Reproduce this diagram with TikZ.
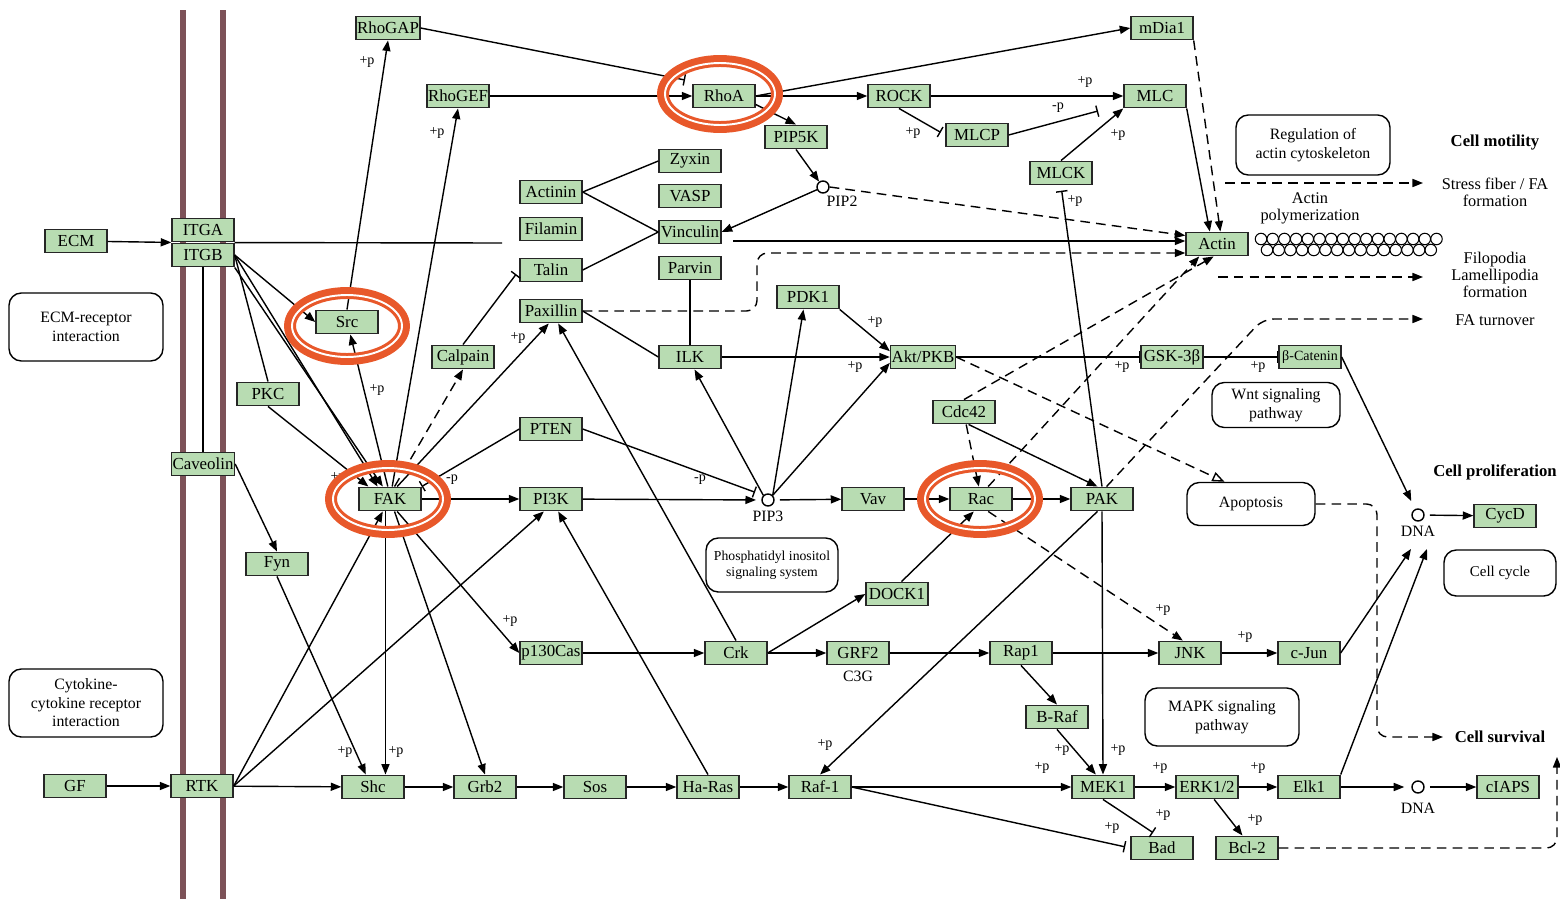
\documentclass[tikz,border=0pt]{standalone}
\usepackage{fontspec}
\setmainfont{Liberation Serif}
\usetikzlibrary{arrows.meta, positioning}
\definecolor{geneg}{RGB}{184,220,178}
\definecolor{hlred}{RGB}{232,88,42}
\definecolor{membr}{RGB}{125,82,88}
\tikzset{
  gene/.style={draw=black!85, fill=geneg, minimum width=1.24cm, minimum height=0.47cm,
    inner sep=0.6pt, font=\fontsize{9.6}{10}\selectfont},
  cmpd/.style={circle, draw, fill=white, minimum size=0.24cm, inner sep=0pt},
  clbl/.style={font=\fontsize{9}{10}\selectfont, inner sep=0pt},
  pw/.style={draw, rounded corners=7pt, align=center, font=\fontsize{9}{10.5}\selectfont},
  outc/.style={align=center, font=\fontsize{9.3}{9.6}\selectfont, inner sep=0pt},
  ttl/.style={font=\fontsize{9.5}{10}\selectfont\bfseries, inner sep=0pt},
  lbl/.style={font=\fontsize{8}{9}\selectfont, inner sep=0pt},
  arr/.style={-{Triangle[length=6pt, width=4.6pt]}},
  inh/.style={-{Bar[width=6.5pt, line width=0.8pt]}},
  dsh/.style={arr, dash pattern=on 5.5pt off 3.5pt},
  membrane/.style={draw=membr, line width=3.4pt},
  hl/.style={draw=hlred, line width=6.8pt},
}
\begin{document}
\begin{tikzpicture}[x=0.02cm, y=-0.02cm, line width=0.8pt]
\useasboundingbox (0,0) rectangle (1560,899);
% cell membrane
\foreach \m in {183,223} \draw[membrane] (\m,10) -- (\m,899);

% receptors, left side
\node[gene] (ecm) at (76,241) {ECM};
\node[gene] (itga) at (203,230) {ITGA};
\node[gene] (itgb) at (203,255) {ITGB};
\node[gene] (caveolin) at (203,464) {Caveolin};
\node[gene] (pkc) at (268,394) {PKC};
\node[gene] (fyn) at (277,564) {Fyn};
\node[gene] (src) at (347,322) {Src};
\node[gene] (fak) at (390,499) {FAK};
\node[gene] (gf) at (75,786) {GF};
\node[gene] (rtk) at (202,786) {RTK};
\node[pw, minimum width=3.08cm, minimum height=1.36cm] (ecmrec) at (86,327) {ECM-receptor\\interaction};
\node[pw, minimum width=3.08cm, minimum height=1.36cm] (cytok) at (86,703) {Cytokine-\\cytokine receptor\\interaction};

% rho branch, top
\node[gene] (rhogap) at (388,28) {RhoGAP};
\node[gene] (rhogef) at (458,96) {RhoGEF};
\node[gene] (rhoa) at (724,96) {RhoA};
\node[gene] (rock) at (899,96) {ROCK};
\node[gene] (mdia) at (1162,28) {mDia1};
\node[gene] (mlc) at (1155,96) {MLC};
\node[gene] (pip5k) at (796,137) {PIP5K};
\node[gene] (mlcp) at (977,135) {MLCP};
\node[gene] (mlck) at (1061,173) {MLCK};
\node[cmpd] (pip2) at (823,187) {};
\node[clbl, below right=2pt and -1pt of pip2] (pip2t) {PIP2};
\node[gene] (actin) at (1217,244) {Actin};

% focal adhesion complex
\node[gene] (zyxin) at (690,161) {Zyxin};
\node[gene] (vasp) at (690,196) {VASP};
\node[gene] (vinculin) at (690,232) {Vinculin};
\node[gene] (parvin) at (690,268) {Parvin};
\node[gene] (actinin) at (551,192) {Actinin};
\node[gene] (filamin) at (551,229) {Filamin};
\node[gene] (talin) at (551,270) {Talin};
\node[gene] (paxillin) at (551,311) {Paxillin};
\node[gene] (calpain) at (463,357) {Calpain};
\node[gene] (ilk) at (690,357) {ILK};
\node[gene] (pten) at (551,429) {PTEN};
\node[gene] (pi3k) at (551,499) {PI3K};
\node[cmpd] (pip3) at (768,500) {};
\node[clbl, below=2pt of pip3] (pip3t) {PIP3};
\node[pw, minimum width=2.64cm, minimum height=1.08cm, font=\fontsize{7.8}{9.2}\selectfont] (pis) at (772,565) {Phosphatidyl inositol\\signaling system};

% akt, rac and pak
\node[gene] (pdk1) at (808,297) {PDK1};
\node[gene] (akt) at (923,357) {Akt/PKB};
\node[gene] (gsk) at (1172,357) {GSK-3β};
\node[gene, font=\fontsize{8}{9}\selectfont] (bcat) at (1310,357) {β-Catenin};
\node[gene] (cdc42) at (964,412) {Cdc42};
\node[gene] (vav) at (873,499) {Vav};
\node[gene] (rac) at (981,499) {Rac};
\node[gene] (pak) at (1102,499) {PAK};
\node[gene] (dock1) at (897,594) {DOCK1};

% MAPK cascade, bottom
\node[gene] (p130) at (551,653) {p130Cas};
\node[gene] (crk) at (736,653) {Crk};
\node[gene] (grf2) at (858,653) {GRF2};
\node[clbl, below=3pt of grf2] (c3g) {C3G};
\node[gene] (rap1) at (1021,653) {Rap1};
\node[gene] (jnk) at (1190,653) {JNK};
\node[gene] (cjun) at (1309,653) {c-Jun};
\node[gene] (braf) at (1057,717) {B-Raf};
\node[gene] (shc) at (373,787) {Shc};
\node[gene] (grb2) at (485,787) {Grb2};
\node[gene] (sos) at (595,787) {Sos};
\node[gene] (hras) at (708,787) {Ha-Ras};
\node[gene] (raf1) at (820,787) {Raf-1};
\node[gene] (mek1) at (1103,787) {MEK1};
\node[gene] (erk) at (1207,787) {ERK1/2};
\node[gene] (elk1) at (1309,787) {Elk1};
\node[gene] (bad) at (1162,848) {Bad};
\node[gene] (bcl2) at (1247,848) {Bcl-2};
\node[cmpd] (dna2) at (1418,787) {};
\node[clbl, below=5pt of dna2] (dna2t) {DNA};
\node[gene] (ciaps) at (1508,787) {cIAPS};
\node[cmpd] (dna1) at (1418,515) {};
\node[clbl, below=2pt of dna1] (dna1t) {DNA};
\node[gene] (cycd) at (1505,516) {CycD};

% pathway boxes and outcomes, right side
\node[pw, minimum width=3.08cm, minimum height=1.2cm] (regact) at (1313,145) {Regulation of\\actin cytoskeleton};
\node[pw, minimum width=2.56cm, minimum height=0.9cm] (wnt) at (1276,405) {Wnt signaling\\pathway};
\node[pw, minimum width=2.56cm, minimum height=0.86cm] (apop) at (1251,504) {Apoptosis};
\node[pw, minimum width=3.08cm, minimum height=1.16cm] (mapk) at (1222,717) {MAPK signaling\\pathway};
\node[pw, minimum width=2.24cm, minimum height=0.92cm, font=\fontsize{8.5}{10}\selectfont] (cellcyc) at (1500,573) {Cell cycle};
\node[ttl] (motil) at (1495,143) {Cell motility};
\node[outc] (stress) at (1495,192) {Stress fiber / FA\\formation};
\node[outc] (filo) at (1495,275) {Filopodia\\Lamellipodia\\formation};
\node[outc] (faturn) at (1495,320) {FA turnover};
\node[ttl] (prolif) at (1495,472) {Cell proliferation};
\node[ttl] (surv) at (1500,737) {Cell survival};
\node[outc] (actpol) at (1310,208) {Actin\\polymerization};
\foreach \i in {0,...,15} \draw[line width=0.6pt] (1261+\i*11.7,239) circle [radius=0.115cm];
\foreach \i in {0,...,14} \draw[line width=0.6pt] (1267+\i*11.7,250) circle [radius=0.115cm];

% free ends
\coordinate (gapbar) at (685,80);
\coordinate (mlcbar) at (1098,111);
\coordinate (gapL) at (502,243);
\coordinate (gapR) at (733,241);
\coordinate (pxbend) at (757,253);
\coordinate (fabend) at (1263,319);
\coordinate (faend) at (1423,319);
\coordinate (sfL) at (1225,183);
\coordinate (sfR) at (1423,183);
\coordinate (flL) at (1218,277);
\coordinate (flR) at (1423,277);
\coordinate (dnaA) at (1411,549);
\coordinate (dnaB) at (1427,549);
\coordinate (apbend) at (1377,737);
\coordinate (survL) at (1443,737);
\coordinate (survB) at (1557,757);

% receptor links
\draw[arr] (ecm) -- (itga.south west);
\draw[arr] (gf) -- (rtk);
\draw (itgb.south) -- (caveolin);
\draw[arr] (caveolin.east) -- (fyn.north);
\draw[arr] (itgb.east) -- (src.west);
\draw (itgb.east) -- (pkc.north);
\draw[arr] (itgb.east) -- (fak.135);
\draw[arr] (itgb.south east) -- (fak.120);
\draw[arr] (pkc.south) -- (fak.150);
\draw[arr] (fyn.south) -- (shc.120);
\draw[arr] (rtk.east) -- (fak.240);
\draw[arr] (rtk.east) -- (pi3k.240);
\draw[arr] (rtk) -- (shc);

% FAK links
\draw[arr] (fak.100) -- (src.285);
\draw[arr] (src.north) -- (rhogap.south);
\draw[arr] (fak.80) -- (rhogef.south);
\draw[dsh] (fak.70) -- (calpain.south);
\draw[arr] (fak.60) -- (paxillin.260);
\draw[inh, shorten >=3pt] (calpain.north) -- (talin.west);
\draw[inh] (pten.west) -- (fak.north east);
\draw[arr] (fak) -- (pi3k);
\draw[arr] (fak.250) -- (fak.250 |- shc.north);
\draw[arr] (fak.290) -- (grb2.north);
\draw[arr] (fak.300) -- (p130.west);

% rho links
\draw[inh] (rhogap.east) -- (gapbar);
\draw[arr] (rhogef) -- (rhoa);
\draw[arr] (rhoa) -- (rock);
\draw[arr] (rhoa.east) -- (mdia.west);
\draw[arr] (rhoa.-15) -- (pip5k.north);
\draw[arr] (pip5k.south) -- (pip2);
\draw[arr] (rock) -- (mlc);
\draw[inh, shorten >=3pt] (rock.south) -- (mlcp.west);
\draw[inh] (mlcp.east) -- (mlcbar);
\draw[arr] (mlck.north) -- (mlc.south west);
\draw[inh, shorten >=3pt] (pak.north) -- (mlck.south);
\draw[arr] (mlc.south east) -- (actin.120);
\draw[dsh] (mdia.south east) -- (actin.75);

% adhesion complex links
\draw (actinin.east) -- (zyxin.west);
\draw (actinin.east) -- (vinculin.west);
\draw (talin.east) -- (vinculin.west);
\draw[arr] (pip2) -- (vinculin.east);
\draw (parvin) -- (ilk);
\draw (paxillin.east) -- (ilk.west);
\draw[dsh, rounded corners=6pt] (paxillin.east) -| (pxbend) -- (pxbend -| actin.west);
\draw (itgb.north east) -- (gapL);
\draw[arr] (gapR) -- (gapR -| actin.west);
\draw[dsh] (pip2.east) -- (actin.165);

% PI3K and Akt links
\draw[arr, shorten >=3pt] (pi3k) -- (pip3);
\draw[inh, shorten >=5pt] (pten.east) -- (pip3.north west);
\draw[arr, shorten <=3pt] (pip3) -- (vav);
\draw[arr] (pip3.north west) -- (ilk.290);
\draw[arr] (pip3.north east) -- (pdk1.250);
\draw[arr] (pip3.north east) -- (akt.190);
\draw[arr] (pdk1.south east) -- (akt.170);
\draw[arr] (ilk) -- (akt);
\draw[inh] (akt) -- (gsk);
\draw[inh] (gsk) -- (bcat);
\draw[dsh, -{Triangle[open, length=7pt, width=5.5pt]}] (akt.east) -- (apop.140);

% Rac and PAK links
\draw[arr] (vav) -- (rac);
\draw[arr] (rac) -- (pak);
\draw[arr] (dock1.70) -- (rac.240);
\draw[arr] (cdc42.290) -- (pak.110);
\draw[dsh] (cdc42.280) -- (rac.100);
\draw[dsh] (cdc42.north) -- (actin.255);
\draw[dsh] (rac.60) -- (actin.215);
\draw[dsh] (rac.300) -- (jnk.120);
\draw[dsh, rounded corners=6pt] (pak.70) -- (fabend) -- (faend);
\draw[arr] (pak.south) -- (mek1.north);
\draw[arr] (pak.250) -- (raf1.north);

% cascade links
\draw[arr] (shc) -- (grb2);
\draw[arr] (grb2) -- (sos);
\draw[arr] (sos) -- (hras);
\draw[arr] (hras) -- (raf1);
\draw[arr] (raf1) -- (mek1);
\draw[arr] (mek1) -- (erk);
\draw[arr] (erk) -- (elk1);
\draw[arr] (erk.300) -- (bcl2.110);
\draw[inh, shorten >=3pt] (raf1.east) -- (bad.west);
\draw[inh, shorten >=3pt] (mek1.south) -- (bad.110);
\draw[arr] (hras.north) -- (pi3k.300);
\draw[arr] (p130) -- (crk);
\draw[arr] (crk.north) -- (paxillin.300);
\draw[arr] (crk.east) -- (dock1.west);
\draw[arr] (crk) -- (grf2);
\draw[arr] (grf2) -- (rap1);
\draw[arr] (rap1) -- (jnk);
\draw[arr] (rap1.south) -- (braf.north);
\draw[arr] (braf.south) -- (mek1.120);
\draw[arr] (jnk) -- (cjun);
\draw[arr] (cjun.east) -- (dnaA);
\draw[arr] (elk1.north east) -- (dnaB);
\draw[arr, shorten >=5pt] (bcat.east) -- (dna1);
\draw[arr, shorten <=3pt] (dna1) -- (cycd);
\draw[arr, shorten >=4pt] (elk1) -- (dna2);
\draw[arr, shorten <=3pt] (dna2) -- (ciaps);
\draw[dsh, rounded corners=6pt] (apop.east) -| (apbend) -- (survL);
\draw[dsh, rounded corners=6pt] (bcl2.east) -| (survB);
\draw[dsh] (sfL) -- (sfR);
\draw[dsh] (flL) -- (flR);

% phosphorylation labels
\foreach \x/\y/\t [count=\n] in {367/62/+p, 437/133/+p, 1085/82/+p, 1058/108/-p,
    913/133/+p, 1118/135/+p, 1075/201/+p, 377/390/+p, 518/338/+p, 875/322/+p,
    855/367/+p, 1122/367/+p, 1258/367/+p, 452/480/-p, 700/480/-p, 338/478/+p,
    510/621/+p, 345/752/+p, 396/752/+p, 1163/610/+p, 1245/637/+p, 825/745/+p,
    1062/750/+p, 1118/750/+p, 1042/768/+p, 1160/768/+p, 1258/768/+p,
    1163/815/+p, 1112/828/+p, 1255/820/+p}
  \node[lbl] (p\n) at (\x,\y) {\t};

% highlighted genes
\foreach \x/\y in {720/94, 347/326, 388/499, 980/499} {
  \draw[hl] (\x,\y) ellipse [x radius=1.14cm, y radius=0.66cm];
  \draw[white, line width=1.1pt] (\x,\y) ellipse [x radius=1.1cm, y radius=0.62cm];
}
\end{tikzpicture}
\end{document}
